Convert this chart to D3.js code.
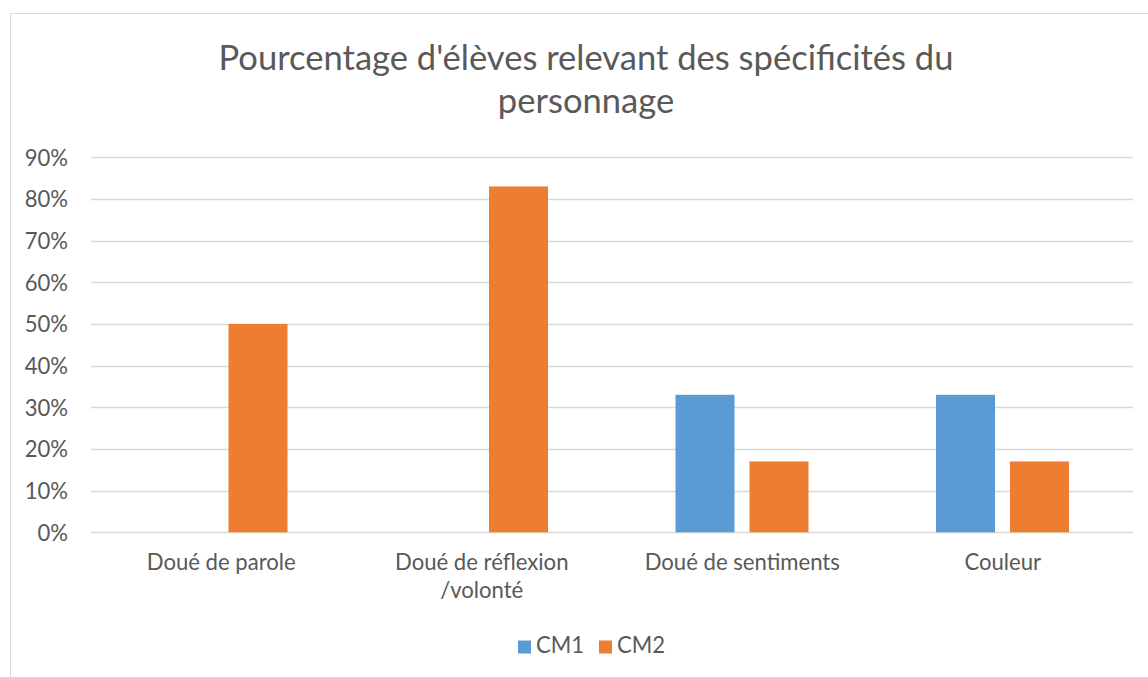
<!DOCTYPE html>
<html><head><meta charset="utf-8">
<script src="https://cdn.jsdelivr.net/npm/d3@7"></script>
<style>body{margin:0;background:#fff}svg{display:block}</style>
</head><body>
<script>
const categories = [["Doué de parole"], ["Doué de réflexion", "/volonté"], ["Doué de sentiments"], ["Couleur"]];
const seriesNames = ["CM1", "CM2"];
const cm1 = [0, 0, 0.33, 0.33];
const cm2 = [0.50, 0.83, 0.17, 0.17];
const yTicks = [0, 0.1, 0.2, 0.3, 0.4, 0.5, 0.6, 0.7, 0.8, 0.9];
const colors = ["#5B9BD5", "#ED7D31"];
const titleLines = ["Pourcentage d'élèves relevant des spécificités du", "personnage"];

const W = 1148, H = 677;
const font = "Lato, 'Open Sans', sans-serif";
const txt = "#595959";
const svg = d3.select("body").append("svg").attr("width", W).attr("height", H);

svg.append("rect").attr("x", 10.5).attr("y", 13.5).attr("width", W + 10).attr("height", H + 10)
  .attr("fill", "#fff").attr("stroke", "#d9d9d9").attr("stroke-width", 1);

const plot = {left: 91, right: 1133, top: 157.3, bottom: 532.3};
const x0 = d3.scaleBand().domain(d3.range(categories.length)).range([plot.left, plot.right]).paddingInner(0).paddingOuter(0);
const x1 = d3.scaleBand().domain(seriesNames).range([63.5, x0.bandwidth() - 64]).paddingInner(15 / 74).paddingOuter(0);
const y = d3.scaleLinear().domain([0, 0.9]).range([plot.bottom, plot.top]);

// title
const title = svg.append("g").attr("fill", txt).style("font-family", font);
titleLines.forEach((t, i) => {
  title.append("text").attr("x", 586).attr("y", 70 + i * 43).attr("text-anchor", "middle")
    .style("font-size", "30px").text(t);
});
const t0 = title.select("text").node();
const w0 = t0.getComputedTextLength();
title.selectAll("text").style("font-size", (30 * 735 / w0).toFixed(2) + "px");

// gridlines
svg.append("g").selectAll("line").data(yTicks).join("line")
  .attr("x1", plot.left).attr("x2", plot.right)
  .attr("y1", d => Math.round(y(d)) + 0.5).attr("y2", d => Math.round(y(d)) + 0.5)
  .attr("stroke", "#d9d9d9").attr("stroke-width", 1.3);

// y axis labels
const yAxis = d3.axisLeft(y).tickValues(yTicks).tickFormat(d3.format(".0%")).tickSize(0).tickPadding(0);
const ya = svg.append("g").attr("transform", `translate(68,0)`).call(yAxis);
ya.select(".domain").remove();
ya.selectAll("text").attr("fill", txt).style("font-family", font).style("font-size", "18px").attr("dy", "0.35em");

// bars
const data = [cm1, cm2];
const groups = svg.append("g").selectAll("g").data(categories.map((c, i) => i)).join("g")
  .attr("transform", i => `translate(${x0(i)},0)`);
groups.selectAll("rect")
  .data(i => seriesNames.map((s, j) => ({s, j, v: data[j][i]})).filter(d => d.v > 0))
  .join("rect")
  .attr("x", d => x1(d.s)).attr("width", x1.bandwidth())
  .attr("y", d => y(d.v)).attr("height", d => y(0) - y(d.v))
  .attr("fill", d => colors[d.j]);

// x labels
const xl = svg.append("g").attr("fill", txt).style("font-family", font).style("font-size", "18px");
categories.forEach((c, i) => {
  c.forEach((line, k) => {
    xl.append("text").attr("x", x0(i) + x0.bandwidth() / 2).attr("y", 570 + k * 28)
      .attr("text-anchor", "middle").text(line);
  });
});
const l0 = xl.select("text").node();
const lw = l0.getComputedTextLength();
const ls = (18 * 149 / lw).toFixed(2);
xl.selectAll("text").style("font-size", ls + "px");
ya.selectAll("text").style("font-size", ls + "px");

// legend
const legX = [518, 599];
const lg = svg.append("g").style("font-family", font);
seriesNames.forEach((s, j) => {
  lg.append("rect").attr("x", legX[j]).attr("y", 640.5).attr("width", 13).attr("height", 13).attr("fill", colors[j]);
  lg.append("text").attr("x", legX[j] + 18).attr("y", 653).attr("fill", txt).style("font-size", ls + "px").text(s);
});
</script>
</body></html>
